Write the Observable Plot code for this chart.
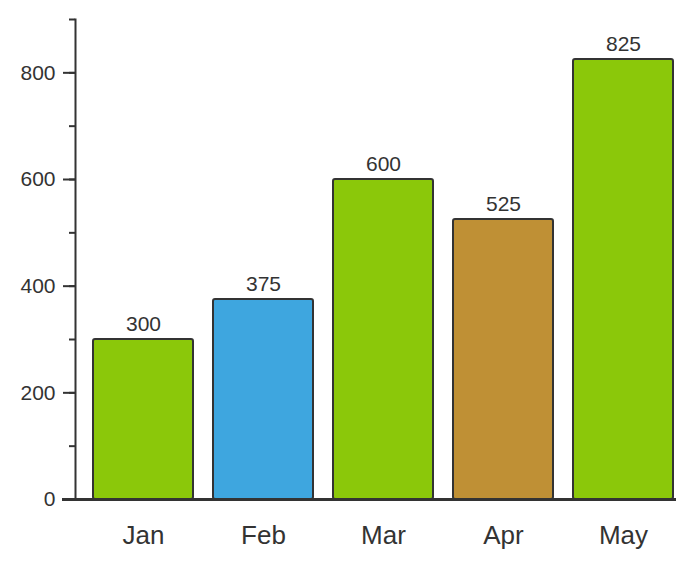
<!DOCTYPE html>
<html>
<head>
<meta charset="utf-8">
<script src="https://cdn.jsdelivr.net/npm/d3@7"></script>
<script src="https://cdn.jsdelivr.net/npm/@observablehq/plot@0.6"></script>
<style>
  body { margin: 0; background: #fff; }
  #chart svg { font-family: "Liberation Sans", Arial, sans-serif; }
</style>
</head>
<body>
<div id="chart"></div>
<script>
const months = ["Jan", "Feb", "Mar", "Apr", "May"]
const sales = [300, 375, 600, 525, 825]
const barColors = ["#8bc80a", "#3ea6df", "#8bc80a", "#bf9035", "#8bc80a"]
const yTicks = [0, 200, 400, 600, 800]

let data = months.map((m, i) => ({month: m, value: sales[i], key: i}))

const ink = "#333"

let chart = Plot.plot({
  width: 695,
  height: 568,
  marginLeft: 75,
  marginRight: 19,
  marginTop: 19,
  marginBottom: 69,
  style: {fontFamily: "Liberation Sans, Arial, sans-serif", color: ink, background: "white"},
  x: {domain: months, range: [93, 673], paddingInner: 1 / 6, paddingOuter: 0, label: null},
  y: {domain: [0, 900], label: null},
  color: {domain: d3.range(months.length), range: barColors},
  marks: [
    Plot.barY(data, {
      x: "month",
      y: "value",
      fill: "key",
      stroke: ink,
      strokeWidth: 2,
      rx: 2
    }),
    Plot.text(data, {
      x: "month",
      y: "value",
      text: d => String(d.value),
      dy: -15,
      fontSize: 21,
      fill: ink
    }),
    // minor ticks
    Plot.axisY({ticks: d3.range(0, 901, 100), tickSize: 6, text: null, stroke: ink, strokeWidth: 2}),
    Plot.axisY({ticks: yTicks, tickSize: 12, tickPadding: 8, fontSize: 21, stroke: ink, strokeWidth: 2, fill: ink}),
    Plot.axisX({tickSize: 0, tickPadding: 26, fontSize: 26, fill: ink}),
    Plot.frame({anchor: "left", stroke: ink, strokeWidth: 2}),
    Plot.ruleY([0], {stroke: ink, strokeWidth: 3, insetLeft: -13, insetRight: 0})
  ]
})

d3.select('#chart').append(() => chart)
</script>
</body>
</html>
